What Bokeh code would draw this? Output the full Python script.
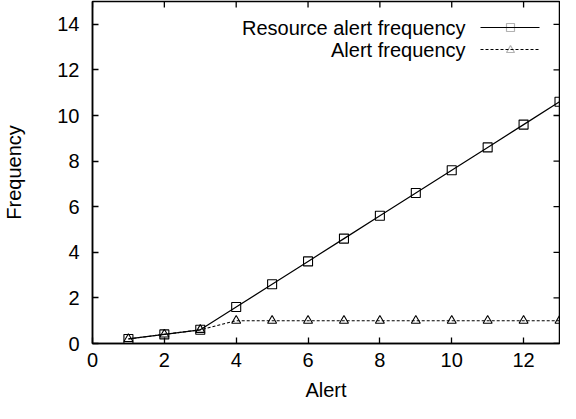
import math
from bokeh.plotting import figure
from bokeh.models import Range1d, Label, Arrow, PolyAnnotation, FixedTicker
from bokeh.embed import file_html
from bokeh.resources import INLINE

alerts = [1, 2, 3, 4, 5, 6, 7, 8, 9, 10, 11, 12, 13]
resource_freq = [0.2, 0.4, 0.6, 1.6, 2.6, 3.6, 4.6, 5.6, 6.6, 7.6, 8.6, 9.6, 10.6]
alert_freq = [0.2, 0.4, 0.6, 1.0, 1.0, 1.0, 1.0, 1.0, 1.0, 1.0, 1.0, 1.0, 1.0]
x_ticks = [0, 2, 4, 6, 8, 10, 12]
y_ticks = [0, 2, 4, 6, 8, 10, 12, 14]
labels = ["Resource alert frequency", "Alert frequency"]
X_MAX = 13
Y_MAX = 15

FONT = "Liberation Sans"
FS = "20px"

p = figure(width=560, height=403, output_backend="svg", toolbar_location=None,
           x_range=Range1d(0, X_MAX), y_range=Range1d(0, Y_MAX),
           min_border_left=87, min_border_right=1, min_border_top=1, min_border_bottom=59)
p.grid.visible = False
p.outline_line_color = "black"
p.outline_line_width = 1.5
p.background_fill_color = "white"
p.border_fill_color = "white"

def style_axis(ax):
    ax.major_tick_in = 6
    ax.major_tick_out = 0
    ax.minor_tick_line_color = None
    ax.axis_line_color = "black"
    ax.axis_line_width = 1.5
    ax.major_tick_line_color = "black"
    ax.major_tick_line_width = 1.3
    ax.major_label_text_font = FONT
    ax.major_label_text_font_size = FS
    ax.major_label_text_color = "black"
    ax.axis_label_text_font = FONT
    ax.axis_label_text_font_size = FS
    ax.axis_label_text_font_style = "normal"
    ax.axis_label_text_color = "black"

p.xaxis.axis_label = "Alert"
p.yaxis.axis_label = "Frequency"
for ax in p.xaxis:
    style_axis(ax)
    ax.ticker = FixedTicker(ticks=x_ticks)
    ax.major_label_standoff = 9
    ax.axis_label_standoff = 9
for ax in p.yaxis:
    style_axis(ax)
    ax.ticker = FixedTicker(ticks=y_ticks)
    ax.major_label_standoff = 13
    ax.axis_label_standoff = 29

# mirrored ticks on top and right (gnuplot style); dashes centred on the
# frame edge, the outer half is clipped by the frame
p.scatter(x=x_ticks, y=[Y_MAX] * len(x_ticks), marker="dash", size=12,
          angle=math.pi / 2, line_color="black", line_width=1.3)
p.scatter(x=[X_MAX] * len(y_ticks), y=y_ticks, marker="dash", size=12,
          line_color="black", line_width=1.3)

p.line(alerts, resource_freq, line_color="black", line_width=1.2)
p.scatter(alerts, resource_freq, marker="square", size=9, fill_color=None,
          line_color="black", line_width=1.1)
p.line(alerts, alert_freq, line_color="black", line_width=1.1, line_dash="3 2")
p.scatter(alerts, alert_freq, marker="triangle", size=9, fill_color=None,
          line_color="black", line_width=1.1)

# gnuplot-style key (text right-aligned, sample to the right), screen units
rows = [(316, None, "square"), (294, "3 2", "triangle")]
for (yy, dash, mk), lab in zip(rows, labels):
    p.add_layout(Label(x=373, y=yy, x_units="screen", y_units="screen", text=lab,
                       text_align="right", text_baseline="middle",
                       text_font=FONT, text_font_size=FS, text_color="black"))
    kw = dict(line_color="black", line_width=1.2 if dash is None else 1.1)
    if dash:
        kw["line_dash"] = dash
    p.add_layout(Arrow(end=None, x_start=388, y_start=yy, x_end=447, y_end=yy,
                       start_units="screen", end_units="screen", **kw))
    cx = 418
    if mk == "square":
        xs = [cx - 4, cx + 4, cx + 4, cx - 4]
        ys = [yy - 4, yy - 4, yy + 4, yy + 4]
    else:
        xs = [cx - 4, cx + 4, cx]
        ys = [yy - 3, yy - 3, yy + 4]
    p.add_layout(PolyAnnotation(xs=xs, ys=ys, xs_units="screen", ys_units="screen",
                                fill_color=None, fill_alpha=0, line_color="black",
                                line_width=1.2))

open("out.html", "w").write(file_html(p, INLINE))
